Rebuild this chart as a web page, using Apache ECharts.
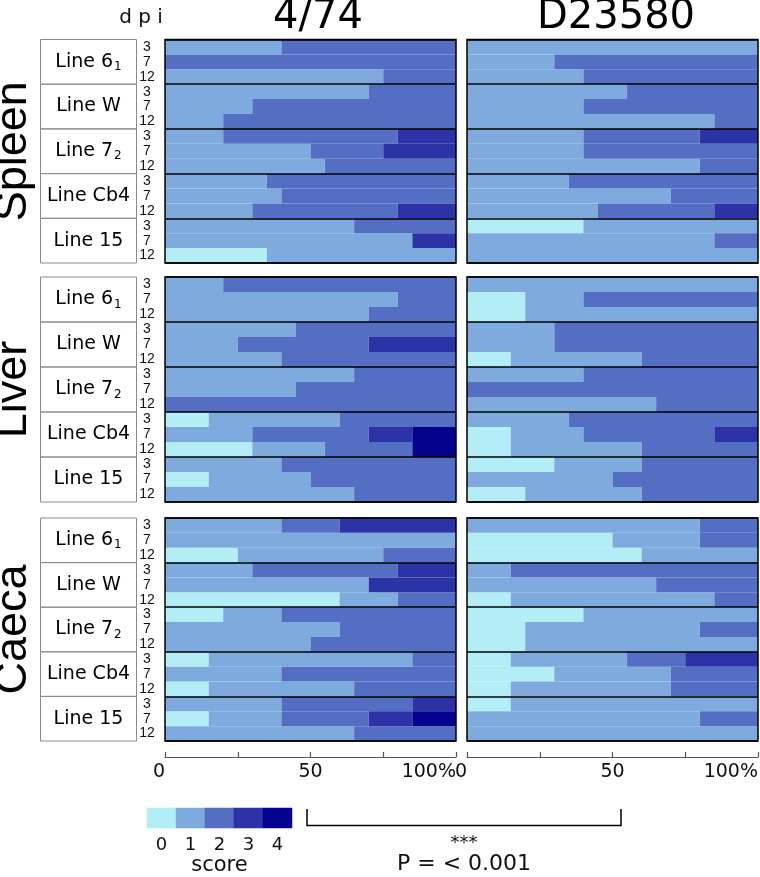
<!DOCTYPE html>
<html>
<head>
<meta charset="UTF-8">
<title>Lesion scores by line and dpi</title>
<script src="https://cdn.jsdelivr.net/npm/echarts@6/dist/echarts.min.js"></script>
</head>
<body style="margin:0">
<div id="chart" style="width:760px;height:877px;"></div>
<script>
// categories
var lines = ['Line 6₁', 'Line W', 'Line 7₂', 'Line Cb4', 'Line 15'];
var dpi = ['3', '7', '12'];
var scores = [0, 1, 2, 3, 4];
var tissues = ['Spleen', 'Liver', 'Caeca'];
var strains = ['4/74', 'D23580'];
var xTicks = {0: '0', 50: '50', 100: '100%'};

// % of birds with score 0..4, one row per line x dpi (3, 7, 12)
var spleen474 = [
	[0,40,60,0,0], [0,0,100,0,0], [0,75,25,0,0],
	[0,70,30,0,0], [0,30,70,0,0], [0,20,80,0,0],
	[0,20,60,20,0], [0,50,25,25,0], [0,55,45,0,0],
	[0,35,65,0,0], [0,40,60,0,0], [0,30,50,20,0],
	[0,65,35,0,0], [0,85,0,15,0], [35,65,0,0,0]
];
var spleenD23580 = [
	[0,100,0,0,0], [0,30,70,0,0], [0,40,60,0,0],
	[0,55,45,0,0], [0,40,60,0,0], [0,85,15,0,0],
	[0,40,40,20,0], [0,40,60,0,0], [0,80,20,0,0],
	[0,35,65,0,0], [0,70,30,0,0], [0,45,40,15,0],
	[40,60,0,0,0], [0,85,15,0,0], [0,100,0,0,0]
];
var liver474 = [
	[0,20,80,0,0], [0,80,20,0,0], [0,70,30,0,0],
	[0,45,55,0,0], [0,25,45,30,0], [0,40,60,0,0],
	[0,65,35,0,0], [0,45,55,0,0], [0,0,100,0,0],
	[15,45,40,0,0], [0,30,40,15,15], [30,25,30,0,15],
	[0,40,60,0,0], [15,35,50,0,0], [0,65,35,0,0]
];
var liverD23580 = [
	[0,100,0,0,0], [20,20,60,0,0], [20,80,0,0,0],
	[0,30,70,0,0], [0,30,70,0,0], [15,45,40,0,0],
	[0,40,60,0,0], [0,0,100,0,0], [0,65,35,0,0],
	[0,35,65,0,0], [15,25,45,15,0], [15,45,40,0,0],
	[30,30,40,0,0], [0,50,50,0,0], [20,40,40,0,0]
];
var caeca474 = [
	[0,40,20,40,0], [0,100,0,0,0], [25,50,25,0,0],
	[0,30,50,20,0], [0,70,0,30,0], [60,20,20,0,0],
	[20,20,60,0,0], [0,60,40,0,0], [0,50,50,0,0],
	[15,70,15,0,0], [0,40,60,0,0], [15,50,35,0,0],
	[0,40,45,15,0], [15,25,30,15,15], [0,65,35,0,0]
];
var caecaD23580 = [
	[0,80,20,0,0], [50,30,20,0,0], [60,40,0,0,0],
	[0,15,85,0,0], [0,65,35,0,0], [15,70,15,0,0],
	[40,60,0,0,0], [20,60,20,0,0], [20,80,0,0,0],
	[15,40,20,25,0], [30,40,30,0,0], [15,55,30,0,0],
	[15,85,0,0,0], [0,80,20,0,0], [0,100,0,0,0]
];
var panels = [
	[spleen474, spleenD23580],
	[liver474, liverD23580],
	[caeca474, caecaD23580]
];

var colors = ['#b3eef7', '#7faadd', '#546ec3', '#2b33a6', '#05038e'];
var font = 'DejaVu Sans';

// layout
var panelLeft = [165, 467], panelWidth = 291;
var tissueTop = [39.5, 277, 518], tissueHeight = [223.5, 225, 223];

// row names: line|dpi
var rows = [];
lines.forEach(function(l){ dpi.forEach(function(d){ rows.push(l + '|' + d); }); });

// 'Line 6₁' -> rich text with a real subscript
var subs = {'₁': '1', '₂': '2'};
function lineLabel(v){
	var last = v.charAt(v.length - 1);
	if (subs[last]) return '{n|' + v.slice(0, -1) + '}{s|' + subs[last] + '}';
	return '{n|' + v + '}';
}

var grid = [], xAxis = [], yAxis = [], series = [];

tissues.forEach(function(tissue, t){
	strains.forEach(function(strain, s){
		var g = grid.length;
		grid.push({
			left: panelLeft[s], top: tissueTop[t], width: panelWidth, height: tissueHeight[t],
			containLabel: false, outerBoundsMode: 'none',
			show: true, z: 10, borderColor: '#000', borderWidth: 1.5, backgroundColor: 'transparent'
		});
		xAxis.push({
			gridIndex: g, type: 'value', min: 0, max: 100, interval: 25,
			show: t === 2, position: 'bottom', offset: 16,
			axisLine: {show: true, lineStyle: {color: '#555', width: 1.2}},
			axisTick: {show: true, inside: true, length: 5, lineStyle: {color: '#555', width: 1.2}},
			splitLine: {show: false},
			axisLabel: {
				fontFamily: font, fontSize: 19, color: '#111', margin: 6,
				alignMinLabel: 'right', alignMaxLabel: 'right',
				formatter: function(v){ return xTicks[v] || ''; }
			}
		});
		var yi = yAxis.length;
		yAxis.push({
			gridIndex: g, type: 'category', data: rows, inverse: true, position: 'left', z: 10,
			axisLine: {show: false}, axisTick: {show: false},
			axisLabel: {
				show: s === 0, interval: 0, align: 'center', margin: 18,
				fontFamily: 'Liberation Sans', fontSize: 14, color: '#111',
				formatter: function(v){ return v.split('|')[1]; }
			},
			splitLine: {
				show: true,
				interval: function(i){ return i % 3 === 0; },
				lineStyle: {color: '#000', width: 1.5}
			}
		});
		if (s === 0) {
			var pad = (tissueHeight[t] / lines.length - 22) / 2;
			yAxis.push({
				gridIndex: g, type: 'category', data: lines, inverse: true, position: 'left',
				axisLine: {show: false}, axisTick: {show: false}, splitLine: {show: false},
				axisLabel: {
					interval: 0, align: 'center', margin: 76.5, width: 96,
					padding: [pad, 0, pad, 0], borderColor: '#8a8a8a', borderWidth: 1,
					formatter: lineLabel,
					rich: {
						n: {fontFamily: font, fontSize: 19, lineHeight: 22, color: '#000'},
						s: {fontFamily: font, fontSize: 12, lineHeight: 10, verticalAlign: 'bottom', color: '#000', padding: [0, 0, 0, 1]}
					}
				},
				name: tissue, nameLocation: 'middle', nameRotate: 90, nameGap: 124,
				nameTextStyle: {fontFamily: 'Liberation Sans', fontSize: 45, color: '#000'}
			});
		}
		var data = panels[t][s];
		scores.forEach(function(k){
			series.push({
				type: 'bar', name: 'score ' + k, xAxisIndex: g, yAxisIndex: yi,
				stack: 'p' + g, barCategoryGap: '0%', silent: true,
				itemStyle: {color: colors[k]},
				data: data.map(function(r){ return r[k]; })
			});
		});
	});
});

// colour key
var kg = grid.length;
grid.push({left: 147, top: 808, width: 145, height: 20, containLabel: false, outerBoundsMode: 'none'});
xAxis.push({
	gridIndex: kg, type: 'category', data: scores.map(String),
	axisLine: {show: false}, axisTick: {show: false},
	axisLabel: {fontFamily: font, fontSize: 18, color: '#111', margin: 8},
	name: 'score', nameLocation: 'middle', nameGap: 25,
	nameTextStyle: {fontFamily: font, fontSize: 21, color: '#111'}
});
yAxis.push({gridIndex: kg, type: 'category', data: [''], show: false});
series.push({
	type: 'heatmap', xAxisIndex: kg, yAxisIndex: yAxis.length - 1, silent: true,
	data: scores.map(function(k, i){ return [i, 0, k]; })
});

var option = {
	animation: false,
	backgroundColor: '#fff',
	grid: grid,
	xAxis: xAxis,
	yAxis: yAxis,
	visualMap: {
		type: 'piecewise', show: false, seriesIndex: series.length - 1, dimension: 2,
		pieces: scores.map(function(k){ return {value: k, color: colors[k]}; })
	},
	series: series,
	graphic: [
		{type: 'text', x: 141, y: 18, style: {text: 'd p i', font: '20px "DejaVu Sans"', fill: '#111', textAlign: 'center', textVerticalAlign: 'middle'}},
		{type: 'text', x: 318, y: 18, style: {text: strains[0], font: '40px "DejaVu Sans"', fill: '#000', textAlign: 'center', textVerticalAlign: 'middle'}},
		{type: 'text', x: 616, y: 18, style: {text: strains[1], font: '40px "DejaVu Sans"', fill: '#000', textAlign: 'center', textVerticalAlign: 'middle'}},
		{type: 'polyline', shape: {points: [[307, 809], [307, 825.5], [621, 825.5], [621, 809]]}, style: {stroke: '#000', lineWidth: 1.5, fill: null}},
		{type: 'text', x: 464, y: 843, style: {text: '***', font: '18px "DejaVu Sans"', fill: '#111', textAlign: 'center', textVerticalAlign: 'middle'}},
		{type: 'text', x: 464, y: 864, style: {text: 'P = < 0.001', font: '22px "DejaVu Sans"', fill: '#111', textAlign: 'center', textVerticalAlign: 'middle'}}
	]
};

var chart = echarts.init(document.getElementById('chart'));
chart.setOption(option);
</script>
</body>
</html>
